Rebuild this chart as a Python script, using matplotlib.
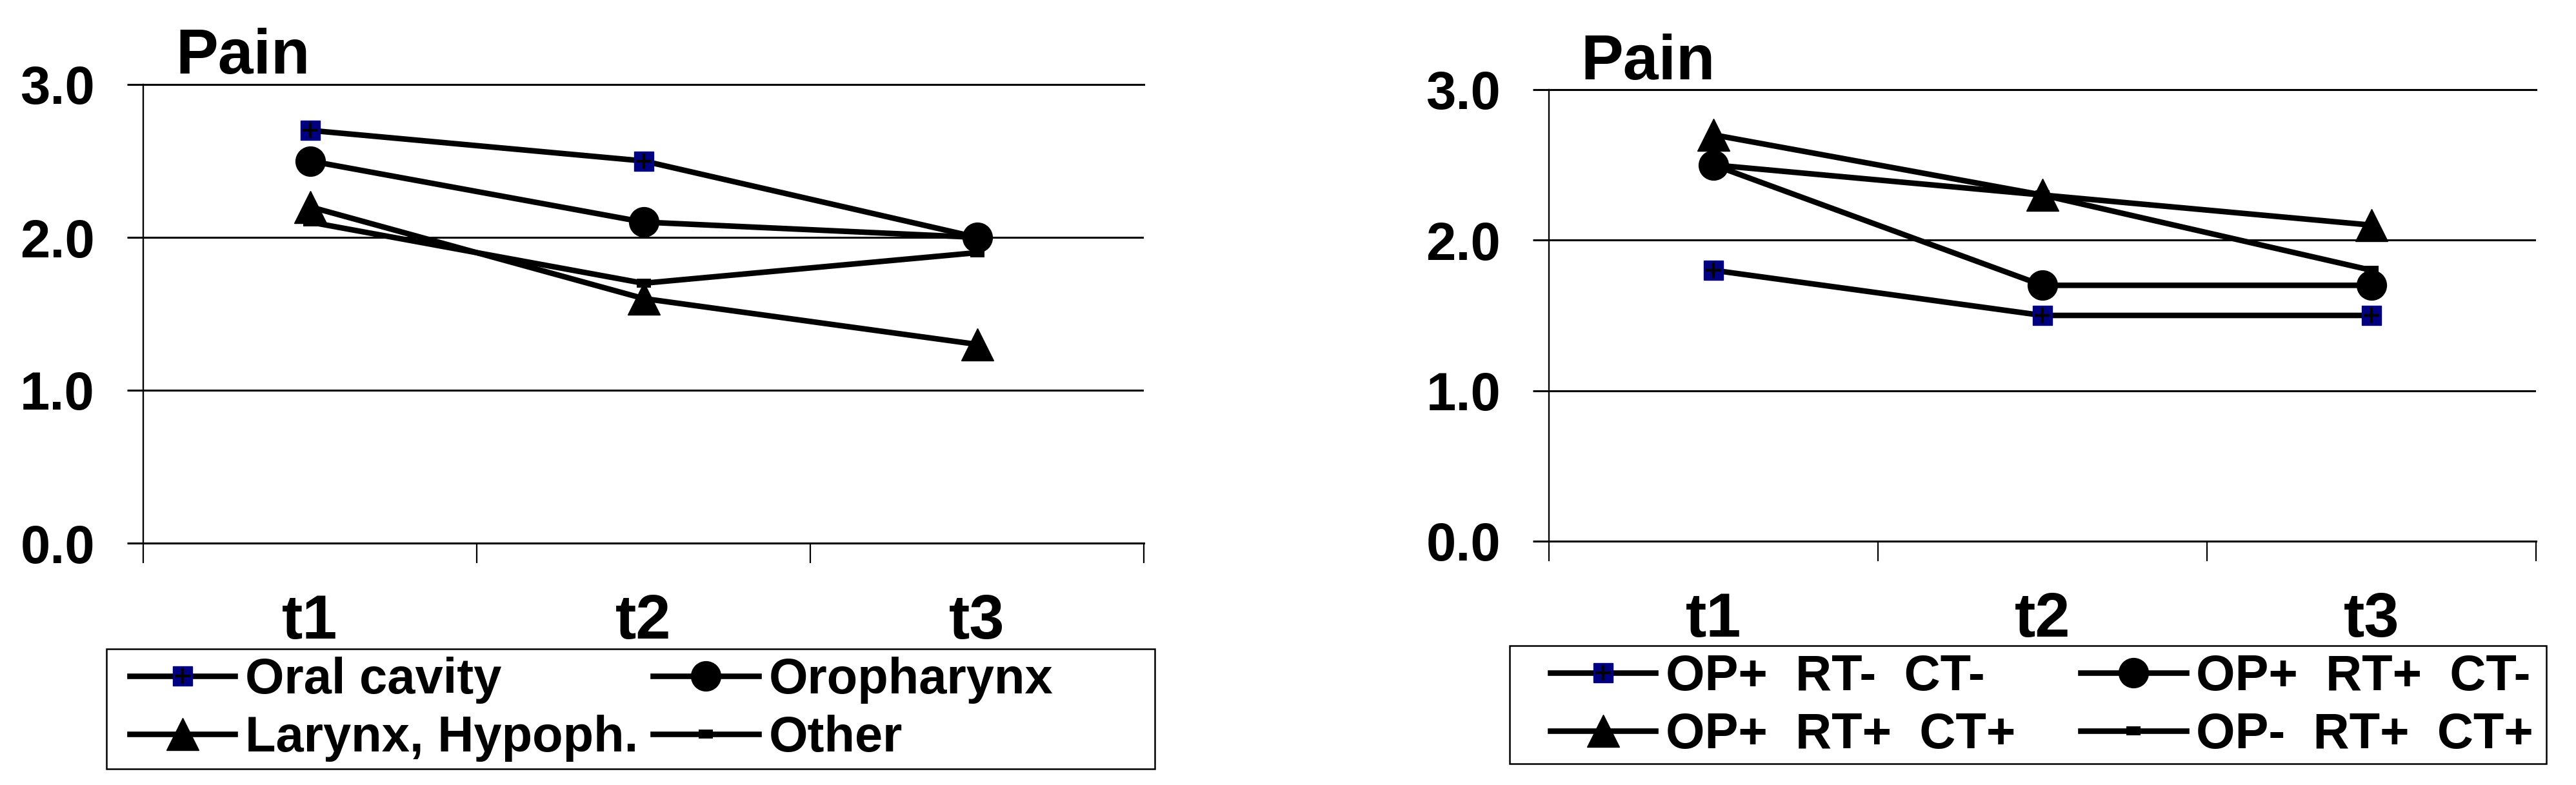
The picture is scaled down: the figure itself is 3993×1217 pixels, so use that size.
import matplotlib
matplotlib.use("Agg")
from matplotlib import pyplot as plt
from matplotlib.patches import Rectangle

plt.rcParams['font.family'] = ['Liberation Sans', 'DejaVu Sans']
plt.rcParams['font.weight'] = 'bold'

# categories
times = ['t1', 't2', 't3']

# left panel: by tumour site
site_names = ['Oral cavity', 'Oropharynx', 'Larynx, Hypoph.', 'Other']
oral_cavity = [2.7, 2.5, 2.0]
oropharynx = [2.5, 2.1, 2.0]
larynx = [2.2, 1.6, 1.3]
other = [2.1, 1.7, 1.9]

# right panel: by therapy
therapy_names = ['OP+  RT-  CT-', 'OP+  RT+  CT-', 'OP+  RT+  CT+', 'OP-  RT+  CT+']
op_only = [1.8, 1.5, 1.5]
op_rt = [2.5, 1.7, 1.7]
op_rt_ct = [2.7, 2.3, 2.1]
rt_ct = [2.5, 2.3, 1.8]

W, H = 3993, 1217
DPI = 100
NAVY = '#000080'
LW = 6.2


def px2fig(x, y):
    # pixel coords (top-left origin) -> figure fraction
    return x / W, 1 - y / H


def style_axes(ax):
    ax.set_xlim(0, 3)
    ax.set_ylim(0, 3)
    ax.set_yticks([0, 1, 2, 3])
    ax.set_yticklabels(['%.1f' % v for v in [0, 1, 2, 3]])
    ax.set_xticks([0.5, 1.5, 2.5])
    ax.set_xticklabels(times)
    ax.set_xticks([0, 1, 2, 3], minor=True)
    ax.tick_params(axis='x', which='major', length=0, pad=56, labelsize=70)
    ax.tick_params(axis='x', which='minor', length=22, width=1.6,
                   direction='out')
    ax.tick_params(axis='y', length=18, width=2.2, pad=36, labelsize=60)
    for y in [1, 2]:
        ax.axhline(y, color='black', lw=2.2, zorder=1)
    ax.spines['right'].set_visible(False)
    ax.spines['top'].set_linewidth(2.2)
    ax.spines['bottom'].set_linewidth(2.2)
    ax.spines['left'].set_linewidth(1.7)


def draw_series(ax, vals, kind, label):
    x = [0.5, 1.5, 2.5]
    if kind == 'square':
        l1, = ax.plot(x, vals, color='black', lw=LW, marker='s', ms=21,
                      mfc=NAVY, mec=NAVY, label=label, zorder=3)
        l2, = ax.plot(x, vals, ls='none', marker='+', ms=17, mew=3,
                      color='black', zorder=4)
        return (l1, l2)
    if kind == 'circle':
        l1, = ax.plot(x, vals, color='black', lw=LW, marker='o', ms=33,
                      label=label, zorder=3)
        return l1
    if kind == 'triangle':
        l1, = ax.plot(x, vals, color='black', lw=LW, marker='^', ms=36,
                      label=label, zorder=3)
        return l1
    l1, = ax.plot(x, vals, color='black', lw=LW, marker='_', ms=16, mew=10,
                  label=label, zorder=3)
    return l1


def add_legend(fig, handles, labels, hx, hy, box, colsp):
    # matplotlib fills legend columns first; reorder so entries run by row
    order = [0, 2, 1, 3]
    handles = [handles[i] for i in order]
    labels = [labels[i] for i in order]
    x0, y0 = px2fig(hx, hy)
    fig.legend(handles, labels, loc='upper left', bbox_to_anchor=(x0, y0),
               ncol=2, frameon=False, fontsize=56, borderpad=0,
               borderaxespad=0, handlelength=2.1, handletextpad=0.2,
               labelspacing=0.22, columnspacing=colsp)
    bx0, by0 = px2fig(box[0], box[3])
    bw = (box[2] - box[0]) / W
    bh = (box[3] - box[1]) / H
    fig.patches.append(Rectangle((bx0, by0), bw, bh, fill=False, lw=1.8,
                                 edgecolor='black',
                                 transform=fig.transFigure))


fig = plt.figure(figsize=(W / DPI, H / DPI), dpi=DPI)

ax1 = fig.add_axes([222 / W, 1 - 842 / H, (1773 - 222) / W, (842 - 131) / H])
style_axes(ax1)
h1 = [draw_series(ax1, oral_cavity, 'square', site_names[0]),
      draw_series(ax1, oropharynx, 'circle', site_names[1]),
      draw_series(ax1, larynx, 'triangle', site_names[2]),
      draw_series(ax1, other, 'dash', site_names[3])]
fig.text(272 / W, 1 - 114 / H, 'Pain', fontsize=71, va='baseline')
add_legend(fig, h1, site_names, 201, 1018, (165, 1006, 1790, 1192), 0.3)

ax2 = fig.add_axes([2401 / W, 1 - 839 / H, (3931 - 2401) / W,
                    (839 - 139) / H])
style_axes(ax2)
h2 = [draw_series(ax2, op_only, 'square', therapy_names[0]),
      draw_series(ax2, op_rt, 'circle', therapy_names[1]),
      draw_series(ax2, op_rt_ct, 'triangle', therapy_names[2]),
      draw_series(ax2, rt_ct, 'dash', therapy_names[3])]
fig.text(2450 / W, 1 - 123 / H, 'Pain', fontsize=71, va='baseline')
add_legend(fig, h2, therapy_names, 2403, 1013, (2340, 1001, 3947, 1184), 1.3)

fig.savefig('out.png', dpi=DPI)
